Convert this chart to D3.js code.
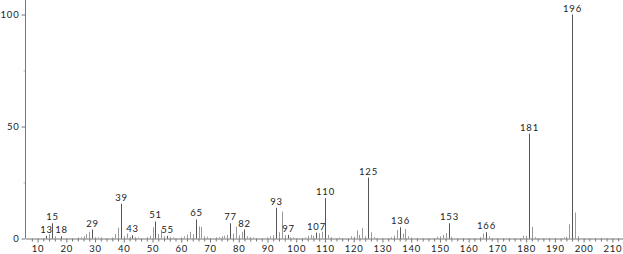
<!DOCTYPE html>
<html>
<head>
<meta charset="utf-8">
<script src="https://cdn.jsdelivr.net/npm/d3@7"></script>
<style>
  body { margin: 0; background: #fff; }
  svg { display: block; }
  text { font-family: "Lato", "DejaVu Sans", sans-serif; fill: #222; }
</style>
</head>
<body>
<div id="vis"></div>
<script>
// Chart size
const FRAME_WIDTH = 623;
const FRAME_HEIGHT = 254;
const MARGINS = {left: 25.5, right: 0, top: 0, bottom: 16};

// Peak data (m/z and relative intensity)
const MZ = [13, 14, 15, 16, 18, 24, 25, 26, 27, 28, 29, 30, 31, 32, 36, 37, 38, 39, 40, 41, 42, 43, 44, 45,
    48, 49, 50, 51, 52, 53, 54, 55, 56, 57, 60, 61, 62, 63, 64, 65, 66, 67, 68, 69, 72, 73, 74, 75, 76, 77,
    78, 79, 80, 81, 82, 83, 84, 85, 90, 91, 92, 93, 94, 95, 96, 97, 98, 99, 103, 104, 105, 106, 107, 108,
    109, 110, 111, 112, 115, 119, 120, 121, 122, 123, 124, 125, 126, 127, 133, 134, 135, 136, 137, 138,
    139, 140, 149, 150, 151, 152, 153, 154, 164, 165, 166, 167, 179, 180, 181, 182, 183, 193, 194, 195,
    196, 197, 198];
const INTENSITY = [1.2, 2.0, 6.8, 1.0, 1.0, 0.5, 0.6, 1.0, 2.0, 3.0, 4.0, 0.6, 0.5, 0.5, 0.5, 2.0, 4.8, 15.5, 1.0, 2.2, 0.8, 1.5, 0.6, 0.5,
    0.6, 1.2, 5.0, 7.6, 2.0, 4.0, 1.0, 1.2, 0.6, 0.5, 0.6, 1.0, 1.8, 3.0, 2.0, 8.5, 5.4, 5.2, 1.0, 0.8, 0.5, 0.6, 1.0, 1.2, 1.6, 6.8,
    2.2, 5.3, 1.4, 3.0, 4.0, 1.0, 0.6, 0.5, 0.5, 1.0, 1.5, 13.7, 2.8, 12.0, 1.5, 1.6, 0.6, 0.5, 0.5, 1.2, 1.6, 1.2, 2.6, 2.4,
    3.0, 18.0, 1.6, 0.6, 0.5, 1.0, 0.8, 3.6, 1.6, 4.6, 1.0, 27.2, 2.8, 0.6, 0.6, 1.2, 3.8, 5.0, 2.2, 4.2,
    1.0, 0.5, 0.8, 1.0, 1.6, 2.4, 6.8, 0.8, 0.6, 2.2, 2.8, 1.0, 1.2, 1.2, 46.8, 5.2, 0.6, 0.5, 0.8, 6.3,
    100, 11.6, 1.0];

// Peaks that carry a label
const LABELED = [13, 15, 18, 29, 39, 43, 51, 55, 65, 77, 82, 93, 97, 107, 110, 125, 136, 153, 166, 181, 196];

// Axis ticks
const X_MAJOR = d3.range(10, 211, 10);
const X_MINOR = d3.range(8, 214, 2).filter(v => v % 10 !== 0);
const Y_MAJOR = [0, 50, 100];
const Y_MINOR = [25, 75];

const X_SCALE = d3.scaleLinear()
    .domain([5.8, 213.7])
    .range([MARGINS.left, FRAME_WIDTH - MARGINS.right]);
const Y_SCALE = d3.scaleLinear()
    .domain([0, 100])
    .range([238.5, 14.5]);

const FRAME = d3.select("#vis")
    .append("svg")
    .attr("width", FRAME_WIDTH)
    .attr("height", FRAME_HEIGHT);

const PEAKS = MZ.map((m, i) => ({mz: m, y: INTENSITY[i]}));

// x axis: major ticks with labels, minor ticks without
FRAME.append("g")
    .attr("transform", "translate(0,238.5)")
    .call(d3.axisBottom(X_SCALE).tickValues(X_MINOR).tickSize(3).tickFormat(""))
    .call(g => g.select(".domain").remove())
    .call(g => g.selectAll("line").attr("stroke", "#777"));
FRAME.append("g")
    .attr("transform", "translate(0,238.5)")
    .call(d3.axisBottom(X_SCALE).tickValues(X_MAJOR).tickSize(4).tickPadding(3).tickSizeOuter(0))
    .call(g => g.select(".domain").attr("stroke", "#777"))
    .call(g => g.selectAll("line").attr("stroke", "#777"))
    .call(g => g.selectAll("text").attr("font-size", "9.5px").attr("letter-spacing", "0.8px"));

// y axis
FRAME.append("g")
    .attr("transform", "translate(" + MARGINS.left + ",0)")
    .call(d3.axisLeft(Y_SCALE).tickValues(Y_MINOR).tickSize(2).tickFormat(""))
    .call(g => g.select(".domain").remove())
    .call(g => g.selectAll("line").attr("stroke", "#bbb"));
FRAME.append("g")
    .attr("transform", "translate(" + MARGINS.left + ",0)")
    .call(d3.axisLeft(Y_SCALE).tickValues(Y_MAJOR).tickSize(4).tickPadding(2).tickSizeOuter(0))
    .call(g => g.select(".domain").attr("d", "M0,0V238.5").attr("stroke", "#777"))
    .call(g => g.selectAll("line").attr("stroke", "#777"))
    .call(g => g.selectAll("text").attr("font-size", "9.5px").attr("letter-spacing", "0.8px"));

// peaks
FRAME.selectAll(".peak")
    .data(PEAKS)
    .enter()
    .append("line")
    .attr("class", "peak")
    .attr("x1", d => Math.round(X_SCALE(d.mz)) + 0.5)
    .attr("x2", d => Math.round(X_SCALE(d.mz)) + 0.5)
    .attr("y1", Y_SCALE(0))
    .attr("y2", d => Y_SCALE(d.y))
    .attr("stroke", d => LABELED.includes(d.mz) ? "#555" : "#999")
    .attr("stroke-width", 1);

// peak labels
FRAME.selectAll(".plabel")
    .data(PEAKS.filter(d => LABELED.includes(d.mz)))
    .enter()
    .append("text")
    .attr("class", "plabel")
    .attr("x", d => Math.round(X_SCALE(d.mz)) + 0.5)
    .attr("y", d => Y_SCALE(d.y) - 3)
    .attr("text-anchor", "middle")
    .attr("font-size", "9.5px")
    .attr("letter-spacing", "0.8px")
    .text(d => d.mz);
</script>
</body>
</html>
